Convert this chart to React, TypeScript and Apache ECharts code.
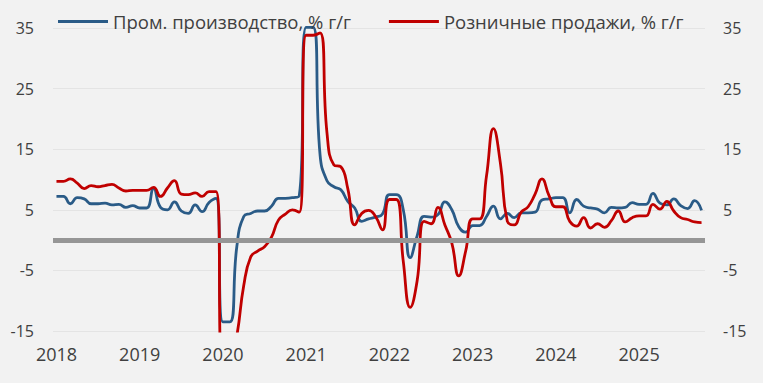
import React, { useEffect, useRef } from "react";
import * as echarts from "echarts";

const startYear = 2018;
const yearLabels = ["2018", "2019", "2020", "2021", "2022", "2023", "2024", "2025"];
const yTicks = [-15, -5, 5, 15, 25, 35];

const industryName = "Пром. производство, % г/г";
const retailName = "Розничные продажи, % г/г";

// monthly, Jan 2018 .. Oct 2025
const industry = [
  7.2, 7.2, 6.0, 7.0, 6.8, 6.0, 6.0, 6.1, 5.8, 5.9, 5.4, 5.7,
  5.3, 5.3, 8.5, 5.4, 5.0, 6.3, 4.8, 4.4, 5.8, 4.7, 6.2, 6.9,
  -13.5, -13.5, -1.1, 3.9, 4.4, 4.8, 4.8, 5.6, 6.9, 6.9, 7.0, 7.3,
  35.1, 35.1, 14.1, 9.8, 8.8, 8.3, 6.4, 5.3, 3.1, 3.5, 3.8, 4.3,
  7.5, 7.5, 5.0, -2.9, 0.7, 3.9, 3.8, 4.2, 6.3, 5.0, 2.2, 1.3,
  2.4, 2.4, 3.9, 5.6, 3.5, 4.4, 3.7, 4.5, 4.5, 4.6, 6.6, 6.8,
  7.0, 7.0, 4.5, 6.7, 5.6, 5.3, 5.1, 4.5, 5.4, 5.3, 5.4, 6.2,
  5.9, 5.9, 7.7, 6.1, 5.8, 6.8, 5.7, 5.2, 6.5, 4.9,
];

const retail = [
  9.7, 9.7, 10.1, 9.4, 8.5, 9.0, 8.8, 9.0, 9.2, 8.6, 8.1, 8.2,
  8.2, 8.2, 8.7, 7.2, 8.6, 9.8, 7.6, 7.5, 7.8, 7.2, 8.0, 8.0,
  -20.5, -20.5, -15.8, -7.5, -2.8, -1.8, -1.1, 0.5, 3.3, 4.3, 5.0, 4.6,
  33.8, 33.8, 34.2, 17.7, 12.4, 12.1, 8.5, 2.5, 4.4, 4.9, 3.9, 1.7,
  6.7, 6.7, -3.5, -11.1, -6.7, 3.1, 2.7, 5.4, 2.5, -0.5, -5.9, -1.8,
  3.5, 3.5, 10.6, 18.4, 12.7, 3.1, 2.5, 4.6, 5.5, 7.6, 10.1, 7.4,
  5.5, 5.5, 3.1, 2.3, 3.7, 2.0, 2.7, 2.1, 3.2, 4.8, 3.0, 3.7,
  4.0, 4.0, 5.9, 5.1, 6.4, 4.8, 3.7, 3.4, 3.0, 2.9,
];

const FONT = "'Open Sans', sans-serif";
const TEXT = "#404040";

export default function App() {
  const ref = useRef<HTMLDivElement>(null);

  useEffect(() => {
    document.body.style.margin = "0";
    if (!ref.current) return;
    const chart = echarts.init(ref.current, undefined, { renderer: "svg" });
    const labelValues = yearLabels.map((_, i) => i * 12);
    const yAxisBase = {
      type: "value",
      min: yTicks[0],
      max: yTicks[yTicks.length - 1],
      interval: 10,
      axisLine: { show: false },
      axisTick: { show: false },
    };
    chart.setOption({
      animation: false,
      backgroundColor: "#f2f2f2",
      textStyle: { fontFamily: FONT },
      grid: { left: 53, right: 58, top: 28, bottom: 52 },
      legend: {
        left: 53,
        top: 7,
        icon: "rect",
        itemWidth: 50,
        itemHeight: 3,
        itemGap: 38,
        textStyle: { fontSize: 18.5, color: TEXT, fontFamily: FONT },
        data: [industryName, retailName],
      },
      xAxis: {
        type: "value",
        min: -0.5,
        max: industry.length - 0.5,
        splitLine: { show: false },
        axisLine: { show: false },
        axisTick: { show: false },
        axisLabel: {
          customValues: labelValues,
          formatter: (v: number) => String(startYear + Math.round(v / 12)),
          fontSize: 18,
          color: TEXT,
          margin: 14,
          fontFamily: FONT,
        },
      },
      yAxis: [
        {
          ...yAxisBase,
          position: "left",
          splitLine: { show: true, lineStyle: { color: "#e4e4e4", width: 1 } },
          axisLabel: { fontSize: 16, color: TEXT, margin: 19, fontFamily: FONT },
        },
        {
          ...yAxisBase,
          position: "right",
          splitLine: { show: false },
          axisLabel: { fontSize: 16, color: TEXT, margin: 18, fontFamily: FONT },
        },
      ],
      series: [
        {
          type: "line",
          name: "zero",
          data: [],
          z: 1,
          silent: true,
          markLine: {
            silent: true,
            symbol: "none",
            label: { show: false },
            lineStyle: { color: "#969696", width: 5, type: "solid" },
            data: [{ yAxis: 0 }],
          },
        },
        {
          type: "line",
          name: industryName,
          data: industry.map((v, i) => [i, v]),
          showSymbol: false,
          symbol: "none",
          smooth: 0.5,
          clip: false,
          z: 3,
          lineStyle: { color: "#2a5b87", width: 2.8 },
          itemStyle: { color: "#2a5b87" },
        },
        {
          type: "line",
          name: retailName,
          data: retail.map((v, i) => [i, v]),
          showSymbol: false,
          symbol: "none",
          smooth: 0.5,
          clip: true,
          z: 4,
          lineStyle: { color: "#c00000", width: 2.8 },
          itemStyle: { color: "#c00000" },
        },
      ],
    });
    return () => chart.dispose();
  }, []);

  return <div ref={ref} style={{ width: 763, height: 383 }} />;
}
